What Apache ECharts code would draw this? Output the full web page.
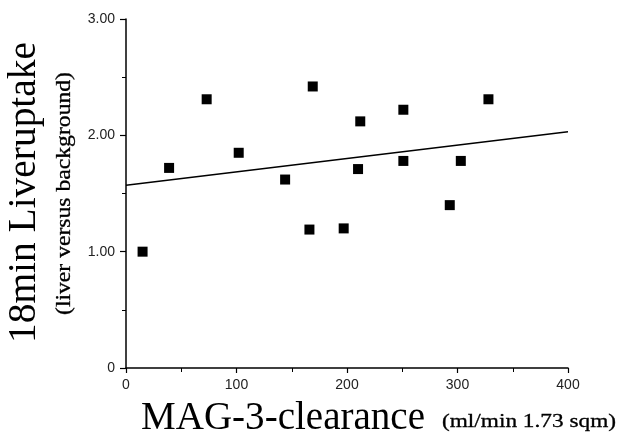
<!DOCTYPE html>
<html><head><meta charset="utf-8">
<script src="https://cdn.jsdelivr.net/npm/echarts@6/dist/echarts.min.js"></script>
<style>html,body{margin:0;padding:0;background:#fff}#c{width:619px;height:437px}</style>
</head><body><div id="c"></div>
<script>
var clearance = [15, 39, 73, 102, 144, 166, 169, 197, 210, 212, 251, 251, 293, 303, 328];
var uptake    = [1.00, 1.72, 2.31, 1.85, 1.62, 1.19, 2.42, 1.20, 1.71, 2.12, 2.22, 1.78, 1.40, 1.78, 2.31];
var fitX = [0, 400];
var fitY = [1.57, 2.03];
var yTickLabels = {0: '0', 1: '1.00', 2: '2.00', 3: '3.00'};

function fitScale(text, font, target) {
  var ctx = document.createElement('canvas').getContext('2d');
  ctx.font = font;
  return target / ctx.measureText(text).width;
}

var chart = echarts.init(document.getElementById('c'), null, {renderer: 'canvas'});
var pts = clearance.map(function (x, i) { return [x, uptake[i]]; });
var line = fitX.map(function (x, i) { return [x, fitY[i]]; });
var tickFont = {color: '#222', fontFamily: 'Liberation Sans', fontSize: 14};

var xSub = '(ml/min 1.73 sqm)';
var ySub = '(liver versus background)';
var xMain = 'MAG-3-clearance';
var yMain = '18min Liveruptake';
var subFont = '19px "Liberation Serif"';
var ySubFont = '20px "Liberation Serif"';
var mainFont = '39px "Liberation Serif"';

chart.setOption({
  animation: false,
  backgroundColor: '#fff',
  grid: {left: 126, right: 51, top: 19, bottom: 69, containLabel: false},
  xAxis: {
    type: 'value', min: 0, max: 400, interval: 100,
    axisLine: {show: true, onZero: false, lineStyle: {color: '#000', width: 1.5}},
    axisTick: {show: true, length: 5, lineStyle: {color: '#000', width: 1.2}},
    minorTick: {show: true, splitNumber: 2, length: 4, lineStyle: {color: '#000', width: 1}},
    splitLine: {show: false},
    axisLabel: Object.assign({margin: 10}, tickFont)
  },
  yAxis: {
    type: 'value', min: 0, max: 3, interval: 1,
    axisLine: {show: true, onZero: false, lineStyle: {color: '#000', width: 1.5}},
    axisTick: {show: true, length: 6, lineStyle: {color: '#000', width: 1.2}},
    minorTick: {show: true, splitNumber: 2, length: 4, lineStyle: {color: '#000', width: 1}},
    splitLine: {show: false},
    axisLabel: Object.assign({margin: 11, formatter: function (v) { return yTickLabels[v]; }}, tickFont)
  },
  series: [
    {type: 'scatter', data: pts, symbol: 'rect', symbolSize: 10, itemStyle: {color: '#000', opacity: 1}},
    {type: 'line', data: line, symbol: 'none', lineStyle: {color: '#000', width: 1.5}}
  ],
  graphic: [
    {type: 'text', x: 141, y: 419, scaleX: fitScale(xMain, mainFont, 284),
     style: {text: xMain, fontFamily: 'Liberation Serif', fontSize: 39, fill: '#000', align: 'left', verticalAlign: 'middle'}},
    {type: 'text', x: 442, y: 422, scaleX: fitScale(xSub, subFont, 174),
     style: {text: xSub, fontFamily: 'Liberation Serif', fontSize: 19, fill: '#000', stroke: '#000', lineWidth: 0.3, align: 'left', verticalAlign: 'middle'}},
    {type: 'text', x: 25, y: 192.5, rotation: Math.PI / 2, scaleX: fitScale(yMain, mainFont, 301),
     style: {text: yMain, fontFamily: 'Liberation Serif', fontSize: 39, fill: '#000', align: 'center', verticalAlign: 'middle'}},
    {type: 'text', x: 65, y: 193.5, rotation: Math.PI / 2, scaleX: fitScale(ySub, ySubFont, 243),
     style: {text: ySub, fontFamily: 'Liberation Serif', fontSize: 20, fill: '#000', stroke: '#000', lineWidth: 0.3, align: 'center', verticalAlign: 'middle'}}
  ]
});
</script></body></html>
